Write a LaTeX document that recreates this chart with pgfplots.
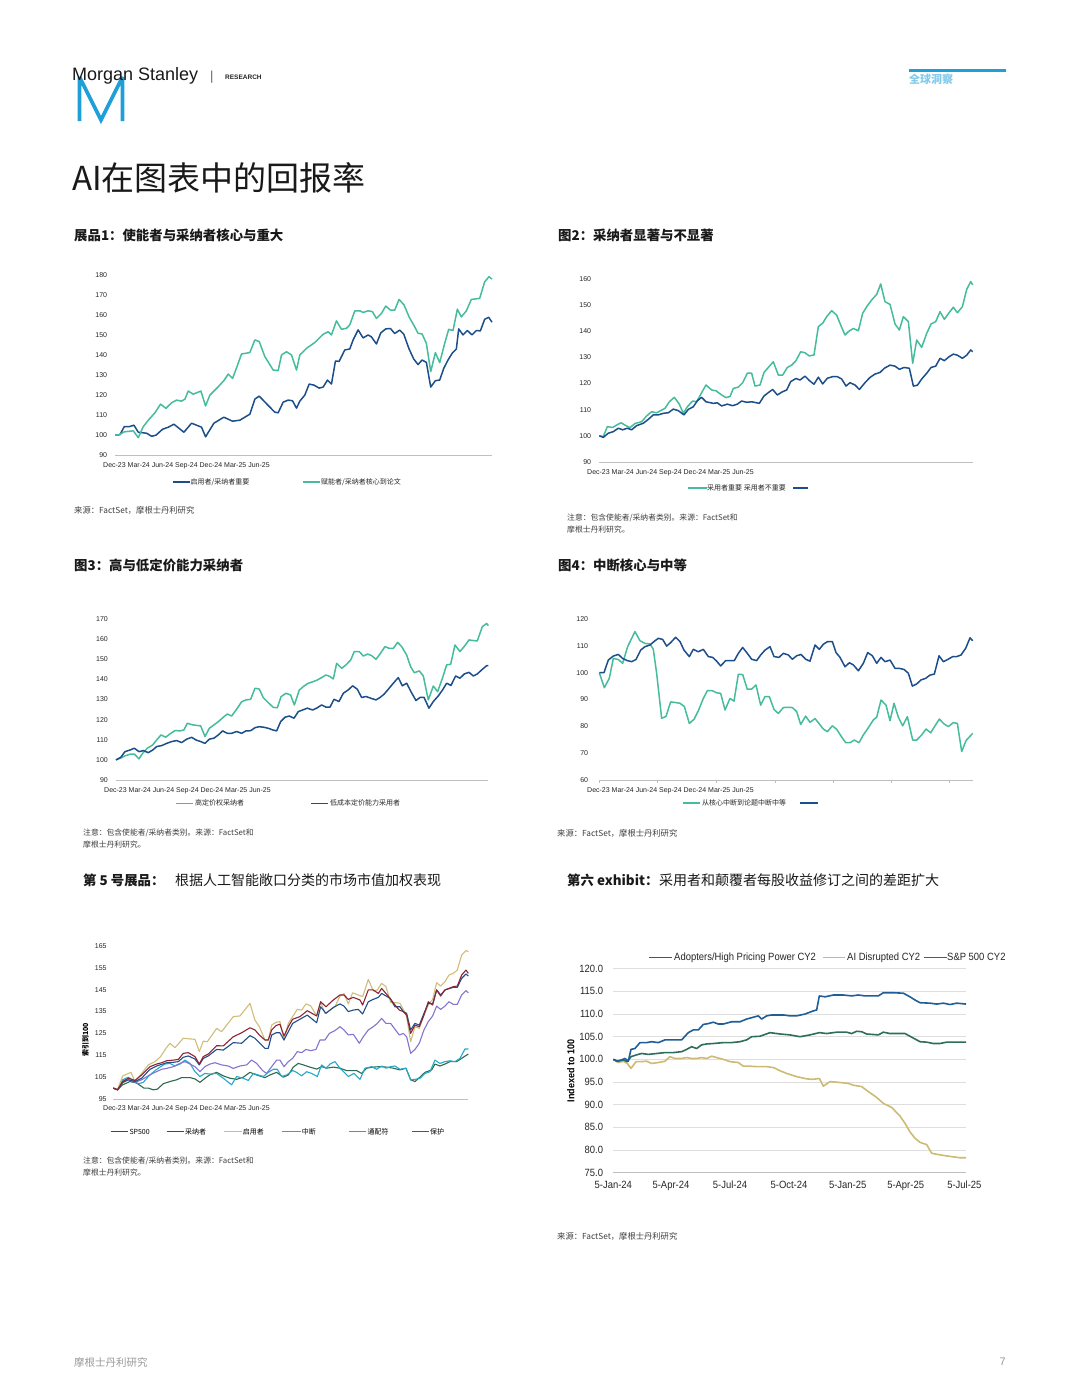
\documentclass[border=0pt]{standalone}
\usepackage{fontspec}
\usepackage{pgfplots}
\pgfplotsset{compat=1.18}
\setmainfont{Liberation Sans}
\newfontfamily\cjk{Noto Sans CJK SC}
\newfontfamily\narrow{Liberation Sans}[FakeStretch=0.9]
\definecolor{msnavy}{HTML}{1B4E8A}
\definecolor{msgreen}{HTML}{45BC9C}
\definecolor{mscyan}{HTML}{1E9FD8}
\definecolor{axgray}{HTML}{BFBFBF}
\definecolor{notegray}{HTML}{3F3F3F}
\definecolor{spred}{HTML}{8C2434}
\definecolor{adblue}{HTML}{1F4E8C}
\definecolor{engold}{HTML}{D0BD7A}
\definecolor{discyan}{HTML}{25A8CA}
\definecolor{wildpurple}{HTML}{8473D0}
\definecolor{protgreen}{HTML}{2E6A4F}
\definecolor{cblue}{HTML}{1F5E99}
\definecolor{cgold}{HTML}{CDBB73}
\definecolor{cgreen}{HTML}{2F6E5C}
\pgfplotsset{
  msaxis/.style={
    scale only axis, anchor=south west, clip=false,
    axis lines*=left,
    y axis line style={draw=none},
    x axis line style={draw=axgray, line width=0.9pt},
    xtick=\empty, major tick length=0pt,
    ytick style={draw=none},
    /pgf/number format/assume math mode=true,
    tick label style={font=\fontsize{7}{8}\selectfont, text=black!85},
    yticklabel style={anchor=east, inner sep=0pt, xshift=-8pt},
    every axis plot/.append style={line width=1.5pt, no markers, line join=round},
  },
}
\begin{document}
\begin{tikzpicture}
\path[use as bounding box, fill=white] (0pt,0pt) rectangle (1080pt,-1398pt);
% ---------------- header
\draw[mscyan, line width=3.6pt, line join=miter, miter limit=3] (79.5pt,-121pt) -- (79.5pt,-77pt) -- (101pt,-120pt) -- (122.5pt,-77pt) -- (122.5pt,-121pt);
\node[anchor=west, inner sep=0pt, text=black!90, font=\fontsize{18}{20}\selectfont] at (72pt,-76pt) {Morgan Stanley};
\node[anchor=west, inner sep=0pt, text=black!60, font=\fontsize{13}{14}\selectfont] at (210pt,-77pt) {|};
\node[anchor=west, inner sep=0pt, text=black!85, font=\bfseries\fontsize{6.5}{7}\selectfont] at (225pt,-77pt) {RESEARCH};
\fill[mscyan] (909pt,-68.5pt) rectangle (1006pt,-71.5pt);
\node[anchor=west, inner sep=0pt, text=mscyan!55, font=\cjk\bfseries\fontsize{11}{12}\selectfont] at (909pt,-79pt) {全球洞察};
\node[anchor=west, inner sep=0pt, text=black!90, font=\cjk\fontsize{33}{36}\selectfont] at (72pt,-178pt) {AI在图表中的回报率};
% ---------------- section titles
\node[anchor=west, inner sep=0pt, text=black!90, font=\cjk\bfseries\fontsize{13.4}{15}\selectfont] at (74pt,-235pt) {展品1：使能者与采纳者核心与重大};
\node[anchor=west, inner sep=0pt, text=black!90, font=\cjk\bfseries\fontsize{13.4}{15}\selectfont] at (558pt,-235pt) {图2：采纳者显著与不显著};
\node[anchor=west, inner sep=0pt, text=black!90, font=\cjk\bfseries\fontsize{13.4}{15}\selectfont] at (74pt,-565pt) {图3：高与低定价能力采纳者};
\node[anchor=west, inner sep=0pt, text=black!90, font=\cjk\bfseries\fontsize{13.4}{15}\selectfont] at (558pt,-565pt) {图4：中断核心与中等};
\node[anchor=west, inner sep=0pt, text=black!90, font=\cjk\bfseries\fontsize{13.4}{15}\selectfont] at (83pt,-880pt) {第 5 号展品：};
\node[anchor=west, inner sep=0pt, text=black!90, font=\cjk\fontsize{14}{15}\selectfont] at (175pt,-880pt) {根据人工智能敞口分类的市场市值加权表现};
\node[anchor=west, inner sep=0pt, text=black!90, font=\cjk\bfseries\fontsize{13.4}{15}\selectfont] at (567pt,-880pt) {第六 exhibit：};
\node[anchor=west, inner sep=0pt, text=black!90, font=\cjk\fontsize{14}{15}\selectfont] at (659pt,-880pt) {采用者和颠覆者每股收益修订之间的差距扩大};
% ---------------- chart 1
\begin{axis}[msaxis, at={(115.3pt,-455.3pt)}, width=376.7pt, height=180.6pt,
  xmin=136, xmax=1267, ymin=90, ymax=180, ytick={90,100,...,180}]
\addplot[msnavy] coordinates {(136,100) (150,100.3) (163,104.3) (178,104.3) (192,105) (205,101.5) (230,101) (245,99.5) (258,100) (278,103) (295,104) (312,105.5) (342,101.5) (365,106) (395,104) (407,99.2) (432,106) (462,109) (488,107) (510,107.5) (540,110.5) (555,118) (568,119.5) (600,114) (615,111.5) (625,111.2) (640,116.5) (655,117.5) (668,117.2) (680,113.5) (690,117) (705,120) (718,125.5) (732,125) (748,123.5) (760,124) (773,127.5) (785,125.5) (797,137) (808,136.8) (825,142.5) (840,143) (850,147.5) (865,152.5) (880,148.5) (895,150) (905,149) (920,145.5) (933,151) (948,153) (962,153.2) (975,150.7) (990,152.4) (1002,150.4) (1018,143) (1032,138) (1045,135.2) (1057,137.5) (1070,136.3) (1083,124) (1097,127.2) (1110,127.5) (1122,133.3) (1135,137.5) (1148,141) (1160,143) (1167,153) (1180,150) (1193,152.2) (1207,150) (1220,152.2) (1232,152) (1245,157.8) (1257,158.8) (1267,156.3)};
\addplot[msgreen] coordinates {(136,100) (148,100.3) (163,101.7) (190,102.2) (205,98.8) (220,104.3) (235,107.5) (255,111.2) (272,115.5) (288,113.4) (305,116.2) (320,117.5) (335,117) (345,118) (355,122) (370,120.5) (393,122) (407,114.6) (420,120) (440,123.3) (462,127.2) (475,130.5) (488,128.3) (502,134.5) (515,140.5) (540,141.2) (555,147.5) (568,146.7) (585,139.2) (610,132.5) (625,132.2) (635,140) (650,141.6) (665,140) (680,132.5) (690,140) (710,143.3) (735,146.2) (760,150.3) (775,151.6) (785,150) (800,157) (815,152.8) (830,153.3) (840,155) (855,162) (870,162) (880,161.2) (895,162) (908,161.6) (920,158.2) (935,160.7) (948,164.4) (962,162.4) (975,162.4) (988,167.7) (1003,164.9) (1018,159) (1035,154) (1045,150.8) (1057,150.5) (1070,145.8) (1083,131.7) (1097,141.2) (1110,136.2) (1125,145.8) (1137,152.8) (1150,152.2) (1163,162.8) (1175,159) (1190,162) (1205,167.7) (1230,168.2) (1245,176.5) (1258,179) (1267,177.8)};
\end{axis}
\node[anchor=west, inner sep=0pt, font=\fontsize{7}{8}\selectfont, text=black!85] at (103pt,-465.7pt) {Dec-23 Mar-24 Jun-24 Sep-24 Dec-24 Mar-25 Jun-25};
\draw[msnavy, line width=1.5pt] (173pt,-482pt) -- (190pt,-482pt);
\node[anchor=west, inner sep=0pt, font=\cjk\fontsize{7}{8}\selectfont, text=black!85] at (190.5pt,-482pt) {启用者/采纳者重要};
\draw[msgreen, line width=1.5pt] (303pt,-482pt) -- (320pt,-482pt);
\node[anchor=west, inner sep=0pt, font=\cjk\fontsize{7}{8}\selectfont, text=black!85] at (321pt,-482pt) {赋能者/采纳者核心到论文};
\node[anchor=west, inner sep=0pt, font=\cjk\fontsize{8.3}{9}\selectfont, text=notegray] at (74pt,-510pt) {来源：FactSet，摩根士丹利研究};
% ---------------- chart 2
\begin{axis}[msaxis, at={(599.3pt,-462pt)}, width=373.4pt, height=183.3pt,
  xmin=148, xmax=1268, ymin=90, ymax=160, ytick={90,100,...,160}]
\addplot[msgreen] coordinates {(148,100) (160,99.7) (172,103.5) (188,103.2) (200,104.1) (213,105) (225,104.1) (240,103.1) (255,104.7) (275,105.4) (290,107.6) (305,109.2) (320,108.8) (345,110.5) (358,113) (373,114.7) (388,112.1) (400,108.6) (412,111.1) (428,113.3) (440,113) (455,116.5) (468,119.4) (485,117.5) (498,117.2) (515,115.6) (528,114.6) (540,115) (550,118.1) (565,118.6) (578,120.3) (592,123.9) (605,123.9) (615,119) (630,119.4) (642,124.2) (655,126.1) (670,128.3) (685,123.2) (698,123.2) (712,126.1) (725,127) (738,128.7) (752,132.1) (765,131.7) (778,130.5) (792,130.9) (805,141.7) (818,143) (830,145.5) (845,147.8) (860,146.1) (872,142.3) (885,138.5) (895,139.8) (910,141) (925,140.1) (938,146.8) (950,149.3) (965,151.9) (980,154) (992,158) (1005,151.2) (1020,150.2) (1035,142.7) (1048,140.4) (1060,145.5) (1075,143.6) (1088,127.7) (1100,136.6) (1115,133.8) (1130,139.1) (1143,142.7) (1157,143.6) (1170,147.4) (1183,144.5) (1197,147) (1210,149.1) (1222,147) (1237,149.3) (1250,155.9) (1262,158.9) (1268,157.6)};
\addplot[msnavy] coordinates {(148,100) (160,99.4) (175,101) (190,101.6) (205,102.9) (218,102.3) (232,102.9) (245,102.3) (260,103.9) (280,104.8) (295,106.3) (310,108) (325,108) (340,108.6) (355,108.8) (370,110.2) (385,109.6) (402,108) (415,110.1) (430,111.1) (442,113.4) (455,114.7) (468,113) (490,112.4) (502,112.6) (515,111.4) (532,112.1) (548,111.5) (562,112.1) (575,113.3) (590,112.8) (605,113) (628,112.4) (642,115.2) (655,116.5) (668,117.7) (682,115.6) (697,116.8) (710,117.5) (722,120.7) (738,121.9) (750,121.3) (765,122.8) (778,121.1) (792,119.7) (805,122.4) (818,119.8) (832,122) (848,122.6) (862,122.6) (875,121.7) (888,119) (900,120.3) (915,119.4) (928,117.7) (945,120.3) (960,122.3) (975,123.6) (990,124.2) (1003,125.8) (1020,127) (1035,126.6) (1048,125.4) (1062,126.1) (1078,125.8) (1090,119) (1102,119.3) (1115,121.7) (1130,123.9) (1143,126.1) (1157,126.6) (1170,129.6) (1183,128.7) (1197,130.2) (1210,131.2) (1222,130.8) (1237,129.6) (1250,130.8) (1262,132.8) (1268,132.1)};
\end{axis}
\node[anchor=west, inner sep=0pt, font=\fontsize{7}{8}\selectfont, text=black!85] at (587pt,-472.7pt) {Dec-23 Mar-24 Jun-24 Sep-24 Dec-24 Mar-25 Jun-25};
\draw[msgreen, line width=1.5pt] (688pt,-488pt) -- (707pt,-488pt);
\node[anchor=west, inner sep=0pt, font=\cjk\fontsize{7}{8}\selectfont, text=black!85] at (707pt,-488pt) {采用者重要 采用者不重要};
\draw[msnavy, line width=1.5pt] (793pt,-488pt) -- (808pt,-488pt);
\node[anchor=west, inner sep=0pt, font=\cjk\fontsize{7.8}{9}\selectfont, text=notegray] at (567pt,-518pt) {注意：包含使能者/采纳者类别。来源：FactSet和};
\node[anchor=west, inner sep=0pt, font=\cjk\fontsize{7.8}{9}\selectfont, text=notegray] at (567pt,-530pt) {摩根士丹利研究。};
% ---------------- chart 3
\begin{axis}[msaxis, at={(116pt,-780pt)}, width=372.3pt, height=161pt,
  xmin=138, xmax=1255, ymin=90, ymax=170, ytick={90,100,...,170}]
\addplot[msgreen] coordinates {(138,100) (150,100.8) (165,102) (180,102.8) (193,102.9) (207,100.5) (218,103.3) (232,105.8) (248,107.4) (260,109.9) (273,112.4) (287,111.3) (300,112.9) (315,114.6) (330,114.4) (342,114.9) (352,118.2) (368,117.4) (392,116.9) (405,111.6) (418,115.7) (432,117.4) (445,119) (460,121.2) (472,122.8) (485,121.8) (500,125.2) (515,128.9) (528,129.8) (542,130.1) (555,135.6) (568,135.2) (580,130.9) (595,128.4) (610,126.1) (622,125.9) (633,131.4) (648,133.1) (662,132.2) (673,127.3) (688,134.7) (702,136.7) (715,138.1) (730,138.9) (742,139.7) (755,140.9) (768,142.2) (780,141.4) (790,140.2) (800,148) (815,145.5) (828,147.2) (842,149.6) (853,153.8) (868,153.8) (880,151.6) (893,152.6) (905,151.8) (918,150) (930,152.6) (945,156.3) (958,155.4) (970,155.4) (983,158.4) (995,156.3) (1010,152.1) (1022,146.3) (1033,143.3) (1048,144.2) (1060,141.7) (1075,129.8) (1090,136.7) (1103,133.9) (1118,140.9) (1130,147.2) (1142,147.5) (1155,157.1) (1170,153.8) (1185,156.8) (1197,159.6) (1210,159.3) (1222,159.1) (1237,166.2) (1250,167.8) (1255,166.7)};
\addplot[msnavy] coordinates {(138,100) (152,101.2) (165,104.1) (180,104.9) (193,105.8) (207,104.1) (220,104.6) (235,103.6) (248,104.9) (260,106.6) (275,107.1) (290,108.2) (305,109.1) (320,109.6) (335,108.6) (350,110.3) (365,111.2) (378,109.9) (392,109.1) (405,108.2) (418,110.3) (432,110.8) (445,112.4) (458,114.4) (472,113.2) (485,113.2) (500,114.1) (515,113.2) (528,114.4) (542,114.5) (555,116) (568,116.5) (582,116.2) (595,115.7) (608,114.9) (620,114.4) (632,119) (645,121.2) (658,121.8) (672,120.7) (685,124) (698,124.8) (712,125.7) (728,124.8) (740,125.7) (755,127.3) (768,126.2) (780,126.2) (792,130.1) (807,129) (820,133.1) (835,134.8) (848,136.8) (862,135.1) (875,131) (888,131.5) (903,130.6) (918,129.8) (930,131) (942,132.6) (955,135.1) (970,138.1) (985,140.9) (997,136.8) (1010,138.1) (1023,133.9) (1038,129.5) (1050,131) (1062,131.1) (1077,125.7) (1090,129) (1105,131.8) (1118,134.8) (1130,138.1) (1143,137) (1157,141.7) (1170,140.6) (1183,142.7) (1197,143.5) (1210,141.7) (1222,142.7) (1237,145) (1250,146.8) (1255,146.8)};
\end{axis}
\node[anchor=west, inner sep=0pt, font=\fontsize{7}{8}\selectfont, text=black!85] at (104pt,-790.7pt) {Dec-23 Mar-24 Jun-24 Sep-24 Dec-24 Mar-25 Jun-25};
\draw[msgreen, line width=1.5pt] (176pt,-803.3pt) -- (193pt,-803.3pt);
\node[anchor=west, inner sep=0pt, font=\cjk\fontsize{7}{8}\selectfont, text=black!85] at (195pt,-803.3pt) {高定价权采纳者};
\draw[msnavy, line width=1.5pt] (311pt,-803.3pt) -- (328pt,-803.3pt);
\node[anchor=west, inner sep=0pt, font=\cjk\fontsize{7}{8}\selectfont, text=black!85] at (330pt,-803.3pt) {低成本定价能力采用者};
\node[anchor=west, inner sep=0pt, font=\cjk\fontsize{7.8}{9}\selectfont, text=notegray] at (83pt,-833pt) {注意：包含使能者/采纳者类别。来源：FactSet和};
\node[anchor=west, inner sep=0pt, font=\cjk\fontsize{7.8}{9}\selectfont, text=notegray] at (83pt,-845pt) {摩根士丹利研究。};
% ---------------- chart 4
\begin{axis}[msaxis, at={(599.3pt,-780pt)}, width=373.4pt, height=161pt,
  xmin=148, xmax=1268, ymin=60, ymax=120, ytick={60,70,...,120},
  xtick={148,323,498,675,850,1023,1198}, xticklabels={}, major tick length=3pt,
  tick align=outside, xtick style={draw=axgray, line width=0.8pt}]
\addplot[msgreen] coordinates {(148,100) (163,94.4) (178,97.9) (190,105.3) (205,104.9) (218,103.5) (233,109.7) (255,115.3) (270,111.9) (285,110.9) (300,110.7) (310,108.7) (320,99.8) (335,83) (348,83.7) (362,89.1) (375,88.9) (390,88.6) (403,87.4) (418,81.1) (432,82.6) (445,85.8) (460,90.4) (472,93.3) (487,93.3) (500,92.5) (512,92.3) (525,86.1) (540,90.4) (552,89.4) (565,99.4) (578,99.3) (592,93.8) (605,93.9) (618,95.4) (632,87.9) (645,91.1) (658,91.1) (672,86.3) (685,84.8) (700,87) (713,87.1) (727,87) (740,85.5) (752,80.7) (767,83.8) (780,81.5) (795,82.9) (808,80.9) (820,79) (832,78) (847,80.2) (860,78.9) (873,76.4) (887,73.9) (900,73.9) (913,74.9) (927,73.9) (940,76.8) (955,79.5) (970,82.4) (980,83.4) (993,89.8) (1008,87.9) (1020,82.1) (1032,88.6) (1045,83.4) (1058,80.2) (1072,83.6) (1088,74.9) (1100,74.9) (1115,76.8) (1128,79) (1142,77.6) (1155,80.2) (1168,82.7) (1182,80.9) (1195,79.9) (1210,81.4) (1222,81.1) (1235,70.6) (1248,74.7) (1268,77.4)};
\addplot[msnavy] coordinates {(148,100) (162,100) (175,104.7) (190,106.2) (205,106.8) (218,105.3) (232,104.5) (245,104.1) (258,104.9) (272,108.4) (285,109.7) (300,110.3) (312,111.6) (325,112.8) (338,112.4) (350,109.9) (362,111.2) (377,113.2) (390,111.6) (402,108.4) (418,106) (430,108.7) (445,107.8) (460,108.7) (475,106) (488,105.7) (500,104.3) (512,102.5) (527,104.5) (540,104.5) (553,104.5) (565,107.2) (578,109.4) (592,107.2) (605,105) (620,104.5) (632,106.6) (645,108.4) (660,109.7) (672,106) (687,105.7) (700,107.2) (715,106.6) (727,105) (740,106.3) (753,106.8) (767,105) (780,104.3) (795,110.3) (808,108.7) (820,110.6) (833,111.6) (847,111.6) (858,107.5) (870,105.7) (885,102.2) (898,103.7) (910,102.9) (925,100.7) (940,103.5) (953,107.5) (967,106.3) (980,103.5) (993,105.7) (1005,104.1) (1020,104.7) (1035,101.6) (1048,101.6) (1062,101.2) (1075,99.8) (1087,95) (1100,95.8) (1113,97.3) (1127,97.9) (1140,99.1) (1153,99.5) (1167,106.3) (1180,104.1) (1193,104.9) (1208,106) (1220,106) (1233,106.6) (1247,109.1) (1260,113) (1268,111.9)};
\end{axis}
\node[anchor=west, inner sep=0pt, font=\fontsize{7}{8}\selectfont, text=black!85] at (587pt,-790.7pt) {Dec-23 Mar-24 Jun-24 Sep-24 Dec-24 Mar-25 Jun-25};
\draw[msgreen, line width=1.5pt] (683pt,-803pt) -- (700pt,-803pt);
\node[anchor=west, inner sep=0pt, font=\cjk\fontsize{7}{8}\selectfont, text=black!85] at (702pt,-803pt) {从核心中断到论题中断中等};
\draw[msnavy, line width=1.5pt] (800pt,-803pt) -- (818pt,-803pt);
\node[anchor=west, inner sep=0pt, font=\cjk\fontsize{8.3}{9}\selectfont, text=notegray] at (557pt,-833pt) {来源：FactSet，摩根士丹利研究};
% ---------------- chart 5
\begin{axis}[msaxis, at={(113.3pt,-1099pt)}, width=355pt, height=153pt,
  xmin=130, xmax=1195, ymin=95, ymax=165, ytick={95,105,...,165},
  yticklabel style={xshift=1.5pt},
  every axis plot/.append style={line width=1.1pt}]
\addplot[protgreen] coordinates {(130,100) (143,99.2) (158,101.5) (180,103) (200,102.3) (222,100) (235,100) (250,99.2) (262,99.5) (280,102) (300,103) (320,103.8) (335,104.8) (360,104.8) (375,104.2) (390,102.6) (405,104.5) (420,106.1) (440,107.2) (460,105.6) (480,104.5) (500,104) (520,105) (540,107.2) (560,106) (585,104.8) (600,106) (620,107.2) (640,105) (655,106) (670,109.6) (685,111.3) (700,110.6) (720,109.6) (740,108.7) (755,109.8) (770,109.1) (790,109.6) (810,109.1) (830,108) (860,108) (875,106.7) (890,109.1) (910,109.6) (930,109.8) (950,109.6) (970,109.1) (990,108.3) (1008,109.1) (1022,103.8) (1035,103) (1050,105) (1065,107.2) (1085,108.3) (1095,111) (1110,110.1) (1125,111) (1140,112.1) (1160,112.1) (1175,113.6) (1195,115.6)};
\addplot[discyan] coordinates {(130,100) (143,99.2) (158,103.8) (175,105) (190,103.5) (205,102) (220,102.6) (235,105.3) (255,108) (270,109.6) (285,111) (300,111.3) (315,110.1) (330,111) (345,112.8) (360,111.3) (375,107.5) (390,105.3) (405,106.7) (420,106.4) (440,106.7) (460,104.5) (485,101.5) (500,105.3) (520,104.5) (535,103.5) (550,106.7) (565,106) (580,105.3) (595,107.2) (610,108.6) (622,108.6) (635,105.3) (650,106) (668,108) (680,107.2) (695,105.6) (710,107.5) (725,106.7) (742,105.3) (755,110.6) (768,109.1) (780,111) (795,112.1) (810,109.1) (835,105.3) (852,106.7) (870,104) (885,109.1) (905,109.8) (920,108.6) (935,110.1) (948,109.1) (962,109.8) (975,110.1) (990,108.6) (1008,109.1) (1022,103.8) (1035,104) (1050,104.5) (1065,106.7) (1080,107.5) (1095,112.8) (1110,111.3) (1125,112.1) (1140,112.5) (1155,112.1) (1170,113.6) (1185,117.9) (1195,117.9)};
\addplot[wildpurple] coordinates {(130,100) (143,99.2) (158,103) (175,103.8) (195,102.6) (215,103.8) (240,106.1) (255,107.2) (275,108.6) (290,109) (310,109.8) (330,111.3) (345,112.1) (360,111) (375,109.8) (390,107.5) (405,109.8) (420,111) (435,111.6) (455,110.6) (475,110.1) (490,109) (510,110.1) (530,110.6) (545,112.8) (560,111.3) (578,108) (590,106.7) (605,109.8) (620,112.8) (630,112.8) (642,109.8) (655,112.1) (668,113.6) (682,116.7) (695,116.2) (708,117.7) (722,117.1) (738,117.7) (750,122) (765,122) (778,125) (795,126.3) (810,128.1) (822,126.6) (835,124.3) (850,124.6) (868,120.5) (880,123.5) (895,126.6) (910,128.1) (922,129.6) (935,131.9) (948,129.6) (962,129.6) (975,126.9) (988,124.3) (1000,125) (1010,123.5) (1022,115.9) (1035,117.7) (1048,120.5) (1062,126.6) (1075,130.4) (1088,133) (1100,137.5) (1112,136) (1125,137.5) (1137,139.5) (1150,138.3) (1162,138.3) (1175,142.6) (1188,144.6) (1195,143.6)};
\addplot[engold] coordinates {(130,100) (143,99.5) (158,105.5) (183,107.2) (195,103) (215,106.7) (235,110.6) (255,112.1) (272,114.4) (288,118.2) (300,120.5) (315,118.5) (340,122.8) (360,122.5) (375,122.3) (388,116.7) (400,121.5) (412,121.2) (440,127.3) (455,125.8) (470,128.8) (490,132.7) (510,133) (540,138.8) (555,131.1) (568,128.1) (585,122) (595,122) (605,128.8) (618,130.1) (630,130.4) (642,122) (655,129.6) (668,132.7) (682,136) (695,135.7) (708,138.5) (722,137.7) (740,133) (752,139.5) (765,134.2) (778,135.4) (795,137.2) (810,142.1) (822,143.3) (835,138.5) (848,143.6) (865,142.6) (878,141.8) (895,149.7) (910,144.4) (922,144.9) (935,147.9) (948,146.4) (962,139.1) (975,139.1) (990,138.8) (1000,136) (1010,132.7) (1022,121.2) (1035,128.1) (1048,127.3) (1062,133.4) (1075,138) (1088,140.6) (1100,148.2) (1112,146.7) (1125,148.7) (1137,151.7) (1150,152.5) (1162,154) (1175,160.9) (1188,162.9) (1195,162.4)};
\addplot[adblue] coordinates {(130,100) (143,99.2) (158,102.5) (175,103.8) (195,103) (215,104.5) (240,108.6) (260,110.1) (290,111.6) (310,111.8) (325,112.1) (340,114.1) (355,114.7) (375,113.3) (388,110.6) (400,113.6) (415,114.7) (440,117.7) (460,117.4) (490,120.8) (515,120.5) (540,124) (555,122.8) (570,120.5) (585,118.2) (595,118.2) (605,124.3) (618,125.3) (630,125.3) (642,122) (655,125.8) (668,129.6) (690,131.5) (712,133.4) (740,129.9) (752,137.2) (768,134.2) (790,136.9) (810,138.5) (822,137.5) (835,135) (850,135.7) (865,136) (878,133.9) (895,139.5) (910,140.6) (925,141.5) (935,143.3) (960,141.1) (975,137.2) (990,137.2) (1000,135) (1010,134.2) (1022,126.6) (1035,129.6) (1048,128.8) (1062,134.2) (1075,138.8) (1088,138.5) (1100,144.9) (1112,142.6) (1125,144.9) (1150,146.1) (1162,146.1) (1175,150.2) (1188,152.2) (1195,151.3)};
\addplot[spred] coordinates {(130,100) (143,99.2) (158,103) (175,104.5) (195,103.5) (215,106) (240,109.8) (260,111) (275,111.6) (290,112.5) (310,112.8) (325,113.1) (340,115.9) (355,116.2) (375,114.4) (388,111) (400,114.4) (415,115.6) (440,119.4) (460,119.3) (490,123.5) (515,125.3) (540,127.6) (555,126.6) (568,124.3) (585,122) (595,122) (605,126.6) (618,128.6) (630,129.2) (642,123.8) (655,128.1) (668,131.5) (690,132.7) (712,135.4) (740,133) (752,139.5) (768,137.2) (790,140.3) (810,142.6) (822,142.6) (835,140.6) (850,141.5) (870,140.3) (878,138) (895,144.9) (910,144.9) (925,143.3) (935,145.6) (960,141.1) (975,138) (988,135.7) (1000,135) (1010,133.4) (1022,125) (1035,128.8) (1048,128.1) (1062,133.4) (1075,139.5) (1088,138) (1100,144.9) (1112,142.1) (1125,144.9) (1150,146.4) (1162,146.7) (1175,151.7) (1188,154) (1195,152.5)};
\end{axis}
\node[anchor=west, inner sep=0pt, font=\fontsize{7}{8}\selectfont, text=black!85] at (103pt,-1109pt) {Dec-23 Mar-24 Jun-24 Sep-24 Dec-24 Mar-25 Jun-25};
\node[rotate=90, inner sep=0pt, font=\cjk\bfseries\fontsize{7}{8}\selectfont] at (85.5pt,-1040pt) {索引到100};
\draw[spred, line width=1.1pt] (110.7pt,-1131.7pt) -- (128pt,-1131.7pt);
\node[anchor=west, inner sep=0pt, font=\cjk\fontsize{7}{8}\selectfont] at (129.3pt,-1131.7pt) {SP500};
\draw[adblue, line width=1.1pt] (166.7pt,-1131.7pt) -- (184pt,-1131.7pt);
\node[anchor=west, inner sep=0pt, font=\cjk\fontsize{7}{8}\selectfont] at (185pt,-1131.7pt) {采纳者};
\draw[engold, line width=1.1pt] (224pt,-1131.7pt) -- (241.5pt,-1131.7pt);
\node[anchor=west, inner sep=0pt, font=\cjk\fontsize{7}{8}\selectfont] at (242.7pt,-1131.7pt) {启用者};
\draw[discyan, line width=1.1pt] (282pt,-1131.7pt) -- (300.5pt,-1131.7pt);
\node[anchor=west, inner sep=0pt, font=\cjk\fontsize{7}{8}\selectfont] at (301.7pt,-1131.7pt) {中断};
\draw[wildpurple, line width=1.1pt] (348.7pt,-1131.7pt) -- (366pt,-1131.7pt);
\node[anchor=west, inner sep=0pt, font=\cjk\fontsize{7}{8}\selectfont] at (367.3pt,-1131.7pt) {通配符};
\draw[protgreen, line width=1.1pt] (411.7pt,-1131.7pt) -- (429pt,-1131.7pt);
\node[anchor=west, inner sep=0pt, font=\cjk\fontsize{7}{8}\selectfont] at (430pt,-1131.7pt) {保护};
\node[anchor=west, inner sep=0pt, font=\cjk\fontsize{7.8}{9}\selectfont, text=notegray] at (83pt,-1161pt) {注意：包含使能者/采纳者类别。来源：FactSet和};
\node[anchor=west, inner sep=0pt, font=\cjk\fontsize{7.8}{9}\selectfont, text=notegray] at (83pt,-1173pt) {摩根士丹利研究。};
% ---------------- chart 6
\begin{axis}[scale only axis, anchor=south west, clip=false,
  at={(613.3pt,-1172.7pt)}, width=352.7pt, height=204pt,
  xmin=190, xmax=1248, ymin=75, ymax=120, ytick={75,80,...,120},
  xtick={190,363,540,717,893,1067,1243},
  xticklabels={5-Jan-24,5-Apr-24,5-Jul-24,5-Oct-24,5-Jan-25,5-Apr-25,5-Jul-25},
  axis lines*=left, y axis line style={draw=none},
  x axis line style={draw=black!25, line width=0.9pt},
  ymajorgrids, grid style={draw=black!13, line width=0.9pt},
  major tick length=0pt,
  /pgf/number format/assume math mode=true,
  yticklabel style={/pgf/number format/fixed, /pgf/number format/fixed zerofill, /pgf/number format/precision=1},
  tick label style={font=\narrow\fontsize{10.5}{12}\selectfont, text=black!85},
  yticklabel style={anchor=east, inner sep=0pt, xshift=-10pt},
  xticklabel style={anchor=north, inner sep=0pt, yshift=-8pt},
  every axis plot/.append style={line width=1.6pt, no markers, line join=round}]
\addplot[cgold] coordinates {(190,100) (205,99.3) (220,99.6) (232,99.1) (243,98) (258,99.5) (275,99.5) (290,99.6) (305,99.1) (325,99.3) (345,99.6) (360,100.6) (375,100.2) (395,100.2) (410,100.4) (425,100.2) (440,100.2) (455,100.4) (470,100.2) (485,100.7) (500,100.4) (520,100) (540,99.5) (565,99.3) (580,98.5) (600,98.5) (620,98.4) (650,98.4) (670,98.2) (690,97.5) (710,96.9) (740,96.2) (770,95.7) (790,95.6) (808,95.8) (820,94.1) (840,95.1) (870,94.9) (895,94.7) (910,94.3) (935,94) (955,92.9) (980,91.6) (1000,90.3) (1025,89.4) (1050,87.5) (1065,85.9) (1080,84) (1095,82.6) (1110,81.7) (1130,81.2) (1145,79.3) (1165,79) (1190,78.7) (1210,78.5) (1230,78.3) (1248,78.3)};
\addplot[cgreen] coordinates {(190,100) (205,99.6) (220,99.9) (232,99.5) (243,100.6) (260,101) (275,101.3) (295,101.1) (320,101.3) (345,101.5) (370,101.5) (395,101.7) (410,102.2) (425,102.8) (440,102.4) (455,103.2) (470,103.4) (490,103.5) (520,103.7) (545,103.7) (570,103.9) (590,104.3) (605,105) (630,105.1) (660,105.9) (690,105.6) (720,105.4) (750,105) (780,105.4) (808,105.9) (830,105.7) (860,106) (890,106) (905,105.7) (920,106.2) (935,106.1) (950,105.6) (985,105.4) (1000,106) (1020,105.7) (1065,105.7) (1080,105.1) (1095,104.5) (1110,103.9) (1130,103.8) (1150,103.5) (1170,103.5) (1190,103.8) (1248,103.8)};
\addplot[cblue] coordinates {(190,100) (200,99.6) (215,99.9) (225,100.2) (235,99.6) (243,102.2) (255,102.4) (270,103.7) (290,103.7) (305,103.9) (325,103.7) (345,104.3) (370,104.3) (395,104.3) (415,105.9) (430,106.5) (445,106.5) (460,107.7) (475,107.9) (490,108.2) (505,107.8) (520,107.8) (545,108.3) (570,108.3) (590,108.9) (605,109.2) (625,109.6) (635,108.9) (650,109.6) (665,109.8) (700,109.8) (720,109.6) (740,109.6) (765,110) (790,110.7) (800,110.9) (808,114) (825,113.8) (850,114.2) (880,114.2) (905,114) (925,114.2) (945,114) (985,114) (1000,114.7) (1030,114.7) (1060,114.6) (1080,113.8) (1095,113.1) (1110,112.5) (1140,112.4) (1160,112.2) (1180,112.4) (1200,112.1) (1220,112.4) (1248,112.2)};
\end{axis}
\node[rotate=90, inner sep=0pt, font=\narrow\bfseries\fontsize{10}{11}\selectfont] at (570.7pt,-1071pt) {Indexed to 100};
\draw[cblue, line width=1.6pt] (649pt,-957.3pt) -- (672pt,-957.3pt);
\node[anchor=west, inner sep=0pt, font=\narrow\fontsize{10.5}{12}\selectfont, text=black!85] at (674pt,-957.3pt) {Adopters/High Pricing Power CY2};
\draw[cgold, line width=1.6pt] (823pt,-957.3pt) -- (845pt,-957.3pt);
\node[anchor=west, inner sep=0pt, font=\narrow\fontsize{10.5}{12}\selectfont, text=black!85] at (847pt,-957.3pt) {AI Disrupted CY2};
\draw[cgreen, line width=1.6pt] (924pt,-957.3pt) -- (947pt,-957.3pt);
\node[anchor=west, inner sep=0pt, font=\narrow\fontsize{10.5}{12}\selectfont, text=black!85] at (947pt,-957.3pt) {S\&P 500 CY2};
\node[anchor=west, inner sep=0pt, font=\cjk\fontsize{8.3}{9}\selectfont, text=notegray] at (557pt,-1236pt) {来源：FactSet，摩根士丹利研究};
% ---------------- footer
\node[anchor=west, inner sep=0pt, font=\cjk\fontsize{10.5}{12}\selectfont, text=black!40] at (74pt,-1362pt) {摩根士丹利研究};
\node[anchor=east, inner sep=0pt, font=\fontsize{11}{12}\selectfont, text=black!40] at (1006pt,-1362pt) {7};
\end{tikzpicture}
\end{document}
